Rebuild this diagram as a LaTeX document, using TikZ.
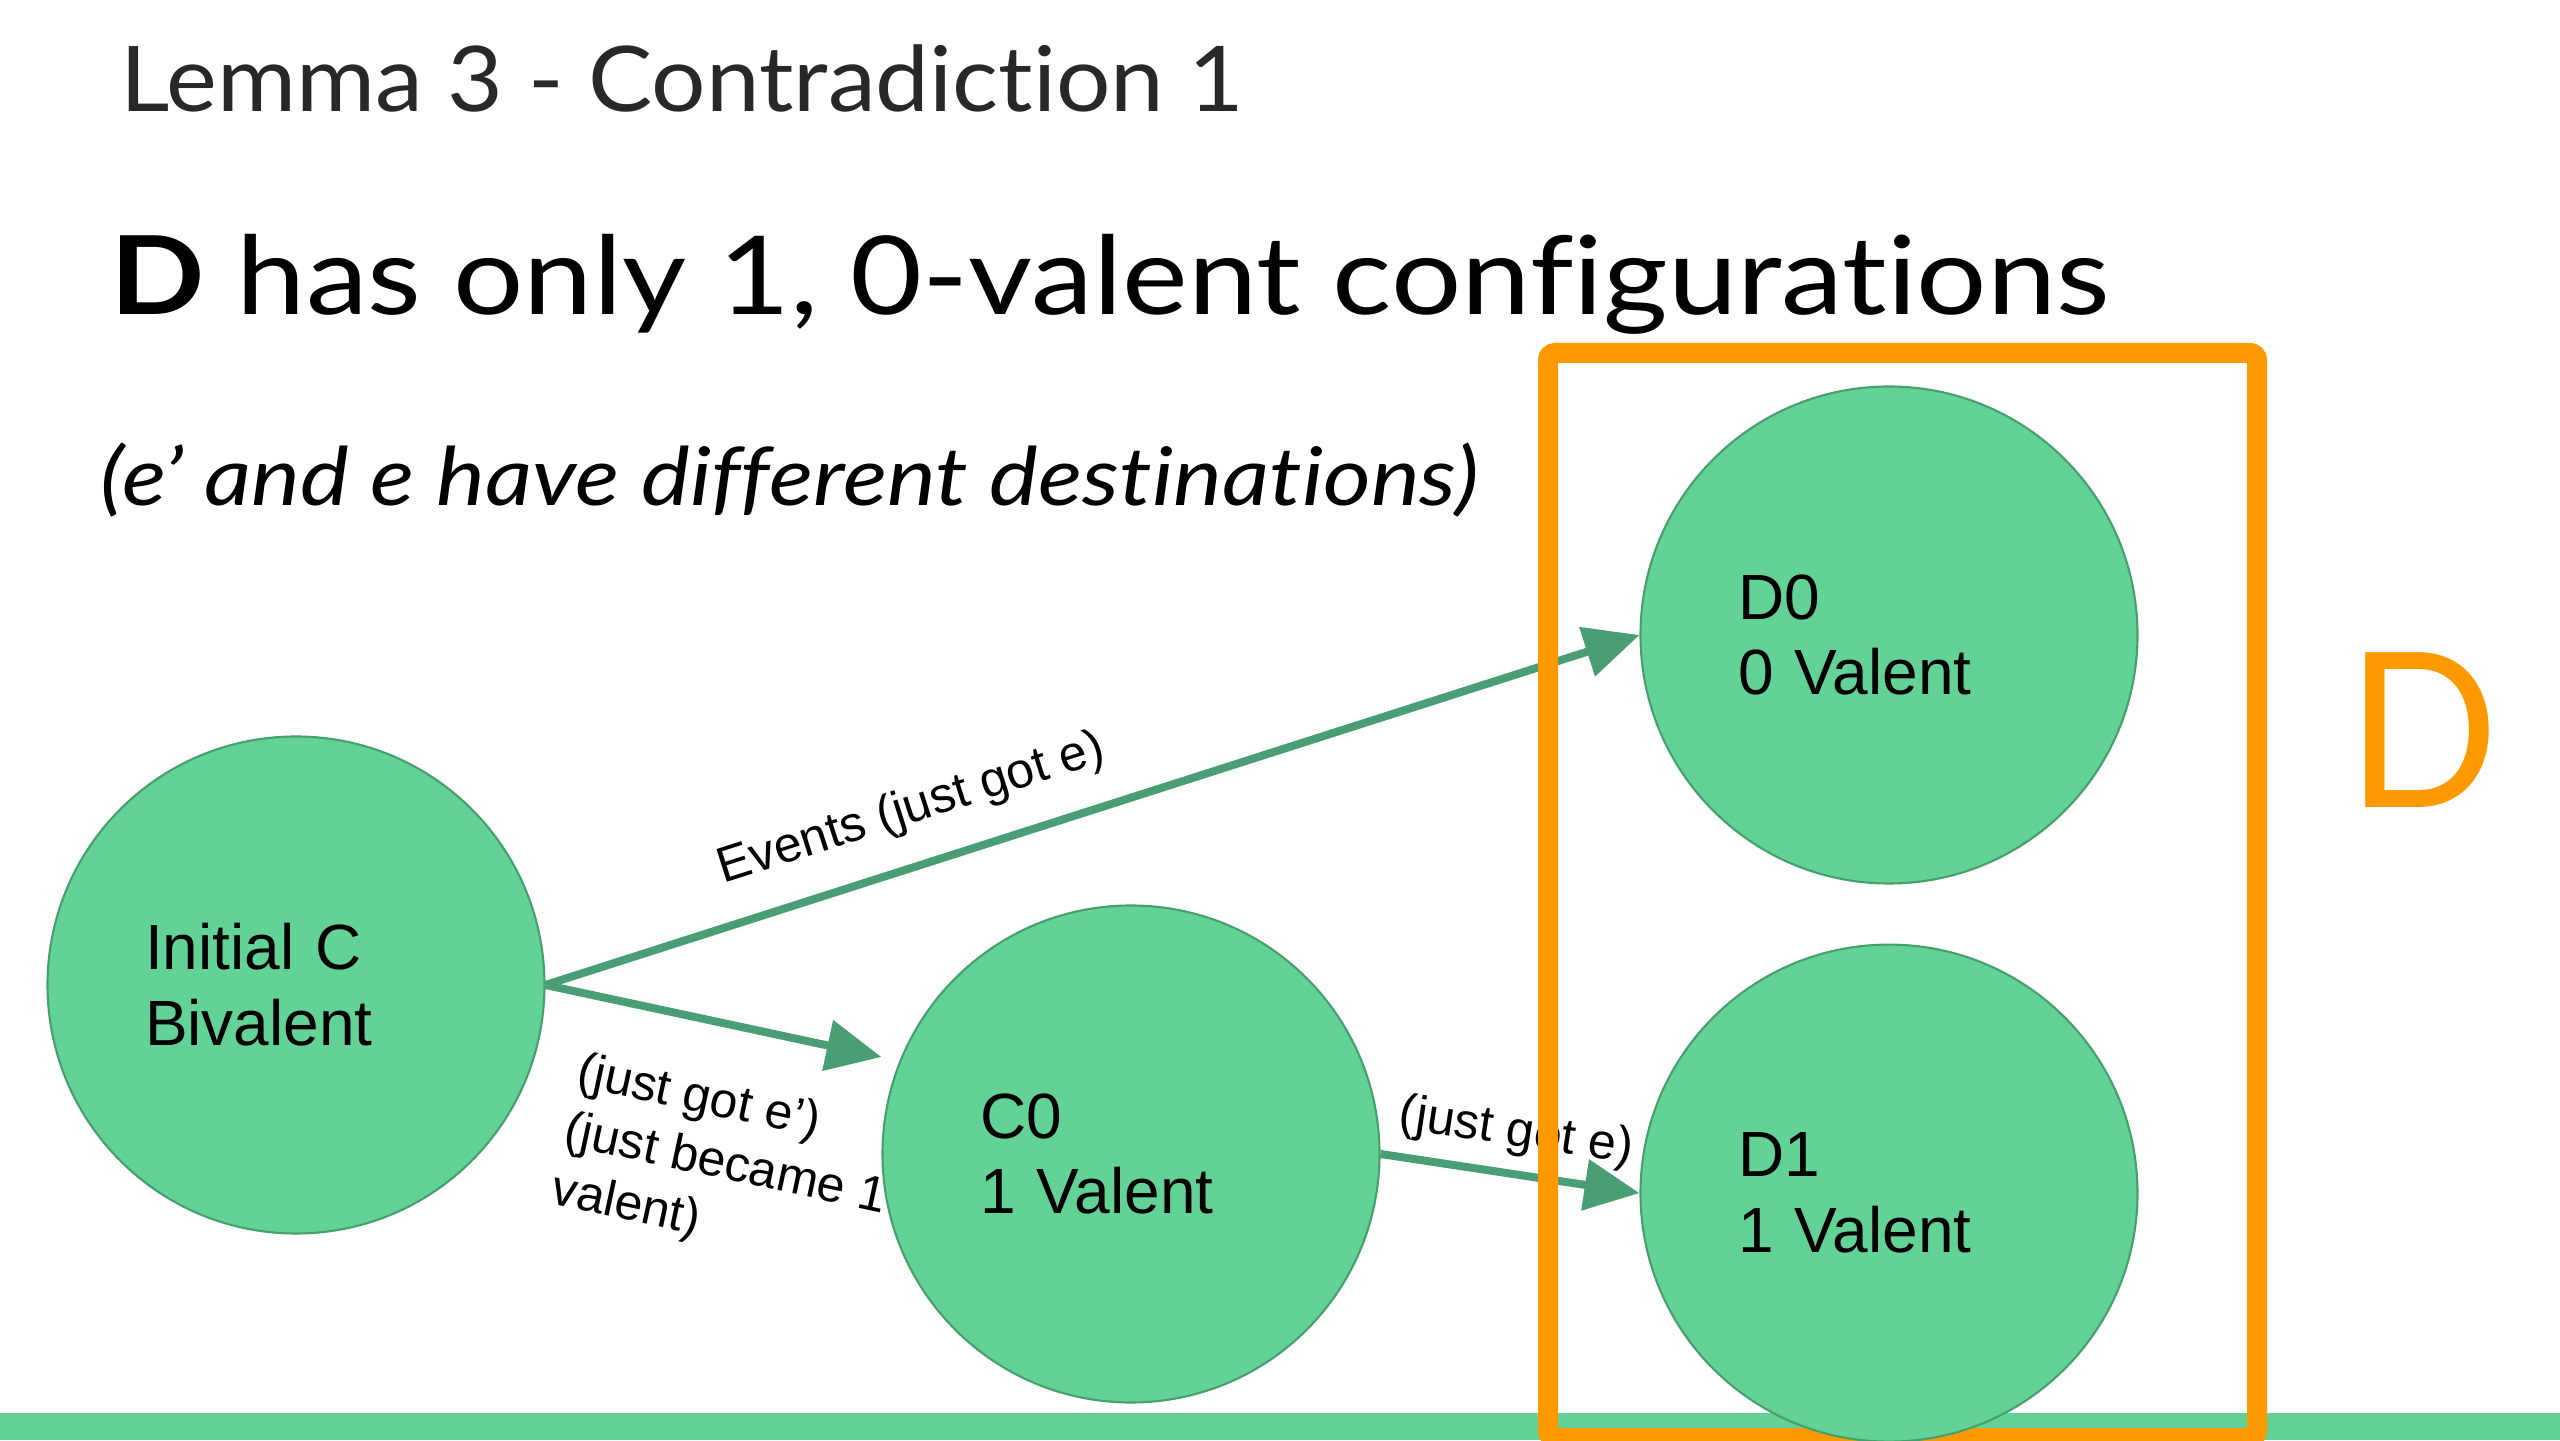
\documentclass[tikz,border=0pt]{standalone}
\usepackage{fontspec}
\setmainfont{Liberation Sans}
\newfontfamily\titlefont[Ligatures=NoCommon, FakeStretch=1.06]{Lato}
\newfontfamily\slidefont[Ligatures=NoCommon, FakeStretch=1.14]{Lato}
\newfontfamily\markfont[FakeStretch=0.92]{Lato}
\usepackage{tikz}
\usetikzlibrary{arrows.meta, positioning, backgrounds}
\definecolor{nodecolor}{RGB}{99,210,151}
\definecolor{rimcolor}{RGB}{70,160,110}
\definecolor{edgecolor}{RGB}{74,158,116}
\definecolor{boxcolor}{RGB}{255,153,0}
\definecolor{titlecolor}{RGB}{40,40,40}

\begin{document}
\begin{tikzpicture}[
    >={Triangle[length=0.55cm, width=0.5cm]},
    state/.style={
        circle, draw=rimcolor, line width=0.6pt,
        fill=nodecolor, minimum size=4.97cm,
        text width=3.02cm, align=left,
        font=\fontsize{18.2}{21.6}\selectfont
    },
    arr/.style={->, draw=edgecolor, line width=0.08cm},
    lbl/.style={
        font=\fontsize{14.2}{17.1}\selectfont,
        inner xsep=0pt, sloped
    },
    heading/.style={anchor=base west, inner sep=0pt}
]
\useasboundingbox (0,0) rectangle (25.6,14.4);

% =========================
% HEADINGS
% =========================
\node[heading, text=titlecolor,
      font=\titlefont\fontsize{25.8}{30}\selectfont] (title)
      at (1.20,13.28) {Lemma 3 - Contradiction 1};

\node[heading, font=\slidefont\fontsize{31}{36}\selectfont] (claim)
      at (1.10,11.25) {\textbf{D} has only 1, 0-valent configurations};

\node[heading, font=\slidefont\itshape\fontsize{23}{28}\selectfont] (note)
      at (1.00,9.34) {(e’ and e have different destinations)};

\node[heading, text=boxcolor,
      font=\markfont\fontsize{61.5}{70}\selectfont] (dname)
      at (23.47,6.32) {D};

% =========================
% CONFIGURATIONS
% =========================
\node[state] (IC) at (2.96,4.55) {Initial C\\Bivalent};

\node[state] (C0) at (11.31,2.86) {C0\\1 Valent};

\node[state] (D0) at (18.89,8.05) {D0\\0 Valent};

\node[state, below=0.59cm of D0] (D1) {D1\\1 Valent};

% =========================
% EVENTS + BOX (behind circles)
% =========================
\begin{scope}[on background layer]
\fill[nodecolor] (0,0) rectangle (25.6,0.27);

\draw[arr] (IC.east) -- (D0.west)
node[lbl, pos=0.35, anchor=south, inner ysep=0.28cm]{Events (just got e)};

\draw[arr] (IC.east) -- ([yshift=0.97cm]C0.west)
node[lbl, pos=0.134, anchor=north west, inner ysep=0.52cm, align=left]
{(just got e’)\\(just became 1\\valent)};

\draw[arr] (C0.east) -- (D1.west)
node[lbl, midway, anchor=south, inner ysep=0.14cm]{(just got e)};

\draw[boxcolor, line width=0.2cm, rounded corners=2pt]
(15.48,0.02) rectangle (22.57,10.87);
\end{scope}

\end{tikzpicture}
\end{document}
